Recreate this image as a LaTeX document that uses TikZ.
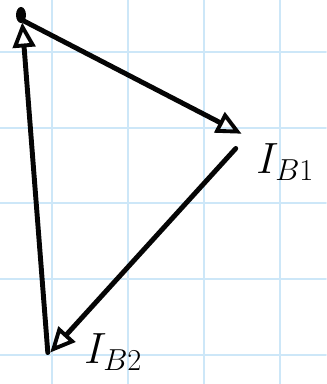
\documentclass[tikz,border=0pt]{standalone}
\usetikzlibrary{arrows.meta, positioning}
\definecolor{cgrid}{HTML}{CDE7F8}
\definecolor{cink}{HTML}{050505}
\tikzset{
  every picture/.style={line width=2.8pt, line cap=round, line join=round},
  vertex/.style={inner sep=0pt, minimum size=0pt},
  current/.style={-{Triangle[open, length=5mm, width=4.5mm, line width=2.2pt]}, draw=cink},
  lbl/.style={font=\fontsize{26}{30}\selectfont, anchor=west, inner sep=0pt},
}
\begin{document}
\begin{tikzpicture}[x=0.02cm, y=-0.02cm]
  \useasboundingbox (0,0) rectangle (326,384);
  % grid paper
  \foreach \gx in {52,128,204,280} { \draw[cgrid, line width=1.1pt] (\gx,0) -- (\gx,384); }
  \foreach \gy in {52,128,203,279,355} { \draw[cgrid, line width=1.1pt] (0,\gy) -- (326,\gy); }
  % vertices
  \node[vertex] (top) at (22,20) {};
  \fill[cink] (21,15) ellipse (5 and 8);
  \node[vertex] (b1) at (244,135) {};
  \node[vertex] (b1s) at (238,146) {};
  \node[vertex] (b2) at (48,355) {};
  % branches
  \draw[current] (top) -- (b1);
  \draw[current] (b1s) -- (b2);
  \draw[current] (b2) -- (top);
  % labels
  \node[lbl] (lb1) at (254,162) {$I_{B1}$};
  \node[lbl] (lb2) at (82,352) {$I_{B2}$};
\end{tikzpicture}
\end{document}
